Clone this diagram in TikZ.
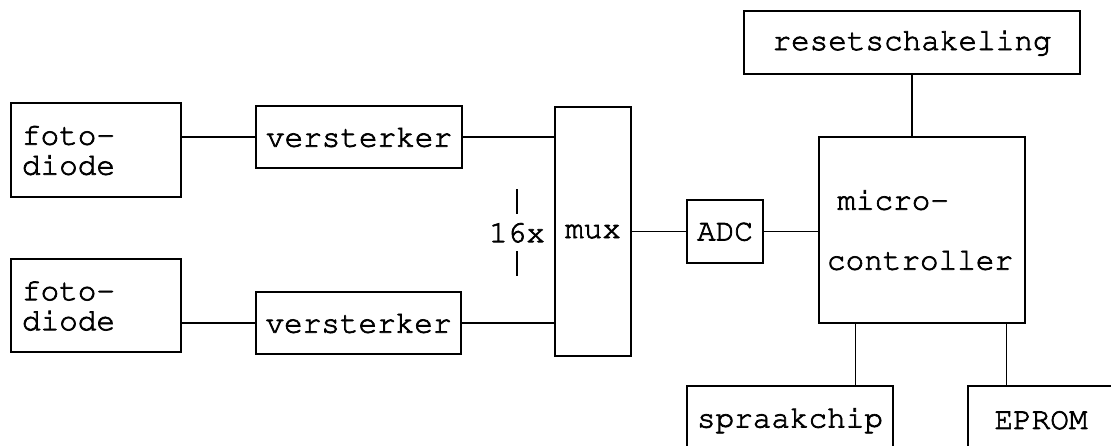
\documentclass[tikz,border=0pt]{standalone}
\usepackage[T1]{fontenc}
\usepackage{courier}
\usepackage{tikz}
\newcommand{\dik}[1]{\special{pdf:literal direct 2 Tr 0.7 w}#1\special{pdf:literal direct 0 Tr 1.2 w}}

\begin{document}
\begin{tikzpicture}[x=1pt, y=-1pt,
   blok/.style={draw, line width=1.2pt, inner sep=0pt, align=center,
      font=\ttfamily\fontsize{31}{30}\selectfont},
   lijn/.style={line width=1.2pt}]
   \clip (0,0) rectangle (1111,445);
    \node[blok, minimum width=170, minimum height=94, text width=148, align=left] (fd1) at (96,150) {\dik{foto-}\\\dik{diode}};
    \node[blok, minimum width=170, minimum height=93, text width=148, align=left] (fd2) at (96,305.5) {\dik{foto-}\\\dik{diode}};
      \node[blok, minimum width=206, minimum height=62] (v1) at (359,137) {\dik{versterker}};
      \node[blok, minimum width=205, minimum height=62] (v2) at (358.5,323) {\dik{versterker}};
   \node[blok, minimum width=76, minimum height=249] (mux) at (593,231.5) {\dik{mux}};
   \node[blok, draw=none, minimum height=36] (n16) at (517,232.5) {\dik{16x}};
   \node[blok, minimum width=76, minimum height=63] (adc) at (725,231.5) {\dik{ADC}};
   \node[blok, minimum width=206, minimum height=186, text width=190, align=left] (mc) at (922,230) {~\dik{micro-}\\[30pt]\dik{controller}};
   \node[blok, minimum width=336, minimum height=63] (reset) at (912,42.5) {\dik{resetschakeling}};
   \node[blok, minimum width=206, minimum height=68] (sp) at (790,420) {\dik{spraakchip}};
   \node[blok, minimum width=146, minimum height=68] (eprom) at (1041,420) {\dik{EPROM}};
    \draw[lijn] (fd1.east |- v1.west) -- (v1.west);
    \draw[lijn] (fd2.east |- v2.west) -- (v2.west);
    \draw[lijn] (v1.east) -- (v1.east -| mux.west);
    \draw[lijn] (v2.east) -- (v2.east -| mux.west);
    \draw[lijn] (n16.north) -- ++(0,-25);
    \draw[lijn] (n16.south) -- ++(0,25);
    \draw[lijn] (mux.east |- adc.west) -- (adc.west);
    \draw[lijn] (adc.east) -- (adc.east -| mc.west);
    \draw[lijn] (reset.south) -- (reset.south |- mc.north);
    \draw[lijn] ([xshift=37pt]mc.south west) -- ([xshift=37pt]mc.south west |- sp.north);
    \draw[lijn] ([xshift=-19pt]mc.south east) -- ([xshift=-19pt]mc.south east |- eprom.north);
\end{tikzpicture}
\end{document}
